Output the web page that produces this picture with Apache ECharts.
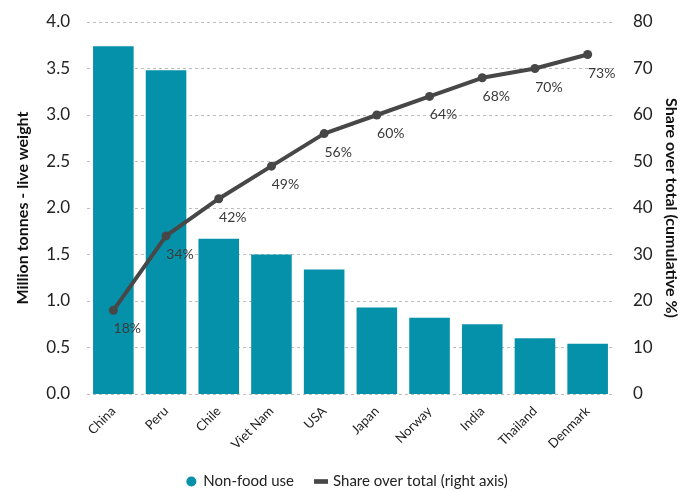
<!DOCTYPE html>
<html>
<head>
<meta charset="utf-8">
<script src="https://cdn.jsdelivr.net/npm/echarts@6/dist/echarts.min.js"></script>
<style>
html,body{margin:0;padding:0;background:#fff;}
#c{width:694px;height:491px;}
</style>
</head>
<body>
<div id="c"></div>
<script>
var categories = ['China','Peru','Chile','Viet Nam','USA','Japan','Norway','India','Thailand','Denmark'];
var nonFoodUse = [3.74, 3.48, 1.67, 1.50, 1.34, 0.93, 0.82, 0.75, 0.60, 0.54];
var cumulativeShare = [18, 34, 42, 49, 56, 60, 64, 68, 70, 73];
var leftTicks = [0, 4, 0.5];
var rightTicks = [0, 80, 10];

var FONT = 'Lato, "Open Sans", sans-serif';
var chart = echarts.init(document.getElementById('c'), null, {renderer:'canvas'});
chart.setOption({
  animation: false,
  textStyle: {fontFamily: FONT},
  grid: {left: 87, right: 80, top: 22, bottom: 97},
  legend: {
    top: 469, left: 'center',
    itemWidth: 14, itemHeight: 10, itemGap: 20,
    textStyle: {fontSize: 15, color: '#222', fontFamily: FONT},
    data: [
      {name: 'Non-food use', icon: 'circle'},
      {name: 'Share over total (right axis)', icon: 'path://M0,0 H12 V4 H0 Z'}
    ]
  },
  xAxis: {
    type: 'category', data: categories,
    axisLine: {show: false}, axisTick: {show: false},
    axisLabel: {rotate: 45, fontSize: 13, color: '#222', margin: 15, fontFamily: FONT}
  },
  yAxis: [{
    type: 'value', min: leftTicks[0], max: leftTicks[1], interval: leftTicks[2],
    name: 'Million tonnes - live weight', nameLocation: 'middle', nameGap: 56,
    nameTextStyle: {fontSize: 16, fontWeight: 'bold', color: '#111', fontFamily: FONT},
    axisLine: {show: false}, axisTick: {show: false},
    axisLabel: {fontSize: 17, color: '#222', margin: 17, formatter: function(v){return v.toFixed(1);}},
    splitLine: {show: true, lineStyle: {type: [3,3], color: '#bdbdbd', width: 1}}
  },{
    type: 'value', min: rightTicks[0], max: rightTicks[1], interval: rightTicks[2],
    position: 'right',
    name: 'Share over total (cumulative %)', nameLocation: 'middle', nameGap: 42, nameRotate: -90,
    nameTextStyle: {fontSize: 16, fontWeight: 'bold', color: '#111', fontFamily: FONT},
    axisLine: {show: false}, axisTick: {show: false},
    axisLabel: {fontSize: 17, color: '#222', margin: 19},
    splitLine: {show: false}
  }],
  series: [{
    name: 'Non-food use', type: 'bar', data: nonFoodUse,
    barCategoryGap: '23%',
    itemStyle: {color: '#0591a9'}
  },{
    name: 'Share over total (right axis)', type: 'line', yAxisIndex: 1, data: cumulativeShare,
    symbol: 'circle', symbolSize: 9,
    lineStyle: {color: '#474747', width: 4},
    itemStyle: {color: '#474747'},
    label: {show: true, position: 'bottom', offset: [14, 2], fontSize: 14, color: '#3a3a3a',
      formatter: function(p){return p.value + '%';}}
  }]
});
</script>
</body>
</html>
